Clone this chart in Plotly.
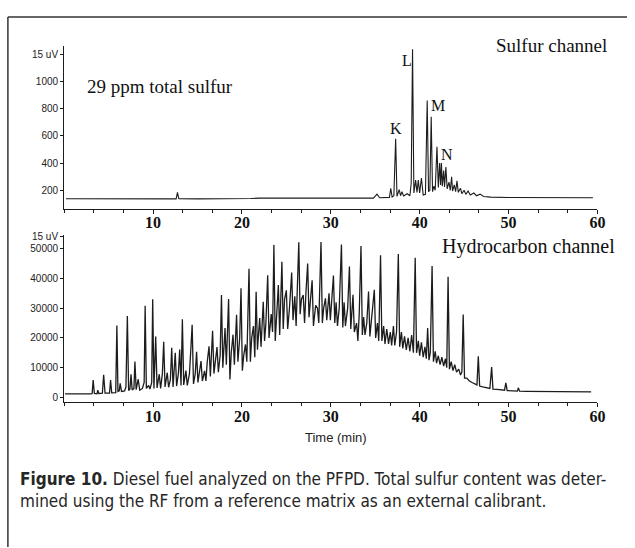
import plotly.graph_objects as go

W, H = 635, 548

# ---------------- data ----------------
# Sulfur channel: (time [min], signal)
sulfur_time = [0.2, 5, 10, 12.6, 12.75, 12.9, 15, 20, 21, 22, 25, 30, 34.8, 35.2, 35.5,
               36.6, 36.75, 36.9, 37.1, 37.3, 37.45, 37.7, 37.85, 38.0, 38.2, 38.6, 38.9,
               39.05, 39.2, 39.35, 39.55, 39.7, 39.85, 40.0, 40.2, 40.4, 40.65, 40.85,
               41.0, 41.15, 41.3, 41.45, 41.6, 41.75, 41.95, 42.1, 42.25, 42.35, 42.45,
               42.55, 42.7, 42.8, 42.95, 43.1, 43.3, 43.45, 43.6, 43.7, 43.9, 44.05,
               44.2, 44.35, 44.6, 44.75, 45.0, 45.2, 45.45, 45.7, 46.1, 46.4, 46.8,
               47.2, 48, 50, 55, 59.5]
sulfur_signal = [138, 137, 136, 137, 185, 138, 137, 136, 140, 143, 142, 142, 143, 172, 145,
                 148, 215, 150, 160, 578, 155, 205, 160, 190, 158, 175, 160,
                 250, 1235, 180, 275, 185, 275, 180, 290, 165, 170, 860,
                 190, 200, 740, 190, 230, 200, 520, 220, 400, 240, 400,
                 230, 345, 225, 370, 210, 260, 200, 300, 195, 240, 190,
                 270, 185, 215, 175, 200, 170, 195, 165, 180, 160, 172,
                 155, 150, 147, 146, 145]

# Hydrocarbon channel: (time [min], signal)
hc_points = [
    (0.1, 1200), (1.5, 1100), (3.0, 1200), (3.15, 1300), (3.26, 5800), (3.4, 1300),
    (3.7, 1200), (3.78, 2400), (3.9, 1300), (4.3, 1400), (4.44, 7600), (4.6, 1400),
    (5.1, 1400), (5.22, 5800), (5.35, 1500), (5.8, 1600), (5.93, 24200), (6.05, 2000),
    (6.2, 2200), (6.3, 4700), (6.45, 2000), (6.8, 2200), (6.95, 3500), (7.11, 27400),
    (7.25, 2300), (7.4, 2800), (7.52, 7800), (7.65, 2500), (7.85, 3000), (7.96, 12100),
    (8.1, 2600), (8.33, 6100), (8.5, 2400), (8.8, 3000), (9.0, 5000), (9.11, 30800),
    (9.25, 3000), (9.5, 4000), (9.65, 2800), (9.85, 5000), (9.96, 33000), (10.1, 3000),
    (10.3, 20500), (10.45, 3200), (10.7, 7800), (10.85, 3000), (11.05, 8000),
    (11.2, 18700), (11.35, 3500), (11.6, 8300), (11.75, 3400), (11.95, 6000),
    (12.1, 16700), (12.25, 3500), (12.5, 15000), (12.65, 3800), (12.85, 8000),
    (13.0, 16100), (13.15, 4000), (13.3, 26300), (13.45, 4200), (13.7, 9000),
    (13.85, 4000), (14.1, 8000), (14.4, 24400), (14.55, 4500), (14.75, 8000),
    (14.9, 15300), (15.05, 5000), (15.4, 12200), (15.55, 5500), (15.8, 8900),
    (15.95, 5500), (16.1, 12000), (16.3, 17200), (16.45, 7000), (16.7, 22400),
    (16.85, 8000), (17.0, 12000), (17.2, 16900), (17.35, 8500), (17.55, 14000),
    (17.7, 34400), (17.85, 10000), (18.1, 23300), (18.25, 11000), (18.5, 33100),
    (18.65, 6000), (18.8, 15000), (19.0, 21100), (19.15, 11000), (19.4, 27800),
    (19.55, 12000), (19.75, 20000), (19.9, 36700), (20.05, 9000), (20.2, 14000),
    (20.4, 17800), (20.55, 12000), (20.8, 43300), (20.95, 12000), (21.1, 20000),
    (21.3, 24000), (21.45, 13500), (21.6, 35500), (21.75, 16000), (22.0, 26700),
    (22.15, 17000), (22.4, 32200), (22.55, 19000), (22.7, 25000), (22.9, 41100),
    (23.05, 20000), (23.3, 28000), (23.45, 22000), (23.6, 51300), (23.75, 19000),
    (23.9, 28000), (24.1, 37800), (24.25, 21000), (24.5, 45600), (24.65, 23000),
    (24.8, 33000), (25.0, 36000), (25.15, 23000), (25.35, 30000), (25.6, 42000),
    (25.75, 26000), (25.95, 34000), (26.1, 24000), (26.4, 52200), (26.55, 28000),
    (26.7, 33000), (26.9, 34400), (27.05, 25000), (27.2, 35000), (27.4, 45000),
    (27.55, 27000), (27.7, 33000), (27.9, 39400), (28.05, 24000), (28.3, 31000),
    (28.5, 30000), (28.65, 25000), (28.9, 52300), (29.05, 25000), (29.2, 30000),
    (29.4, 33300), (29.55, 26000), (29.8, 35000), (29.95, 26000), (30.1, 33000),
    (30.3, 41000), (30.45, 25000), (30.6, 32000), (30.75, 24000), (30.95, 30000),
    (31.2, 51400), (31.35, 23500), (31.5, 32000), (31.65, 24000), (31.9, 30000),
    (32.1, 44000), (32.25, 23000), (32.5, 34500), (32.65, 22000), (32.9, 25000),
    (33.05, 19000), (33.2, 28000), (33.4, 50900), (33.55, 21000), (33.7, 27000),
    (33.85, 21000), (34.05, 25000), (34.25, 35600), (34.4, 20500), (34.6, 26000),
    (34.9, 36200), (35.05, 20000), (35.25, 25000), (35.4, 19000), (35.6, 47800),
    (35.75, 19000), (35.95, 24000), (36.1, 18000), (36.3, 23000), (36.5, 18000),
    (36.7, 22000), (36.85, 17500), (37.05, 24000), (37.2, 17500), (37.4, 22000),
    (37.6, 48200), (37.75, 17000), (37.95, 22000), (38.1, 16500), (38.3, 20500),
    (38.5, 16000), (38.7, 20000), (38.9, 15500), (39.1, 21000), (39.3, 15000),
    (39.5, 47000), (39.65, 15000), (39.85, 19000), (40.0, 14000), (40.2, 18500),
    (40.4, 13500), (40.6, 17000), (40.75, 13000), (40.9, 23300), (41.05, 12500),
    (41.2, 15000), (41.4, 44200), (41.55, 12000), (41.75, 15500), (41.9, 11500),
    (42.1, 14000), (42.3, 11000), (42.5, 13500), (42.7, 10500), (42.9, 13000),
    (43.05, 10000), (43.2, 40600), (43.35, 9500), (43.55, 12000), (43.75, 9000),
    (43.95, 11000), (44.15, 8500), (44.4, 9500), (44.6, 7500), (44.75, 8500),
    (44.9, 27900), (45.05, 6500), (45.3, 6500), (45.6, 5500), (45.9, 5000),
    (46.2, 4500), (46.45, 4200), (46.6, 13800), (46.75, 3800), (47.1, 3500),
    (47.5, 3200), (47.9, 3000), (48.1, 10200), (48.25, 2800), (48.7, 2700),
    (49.2, 2500), (49.55, 2400), (49.7, 4900), (49.85, 2300), (50.5, 2200),
    (51.0, 2100), (51.1, 3200), (51.25, 2100), (52, 2050), (54, 2000), (56, 1950),
    (58, 1900), (59.3, 1850)]
hc_time = [p[0] for p in hc_points]
hc_signal = [p[1] for p in hc_points]

x_ticks = [10, 20, 30, 40, 50, 60]
x_ticktext = ["<b>%d</b>" % v for v in x_ticks]
top_ticks = [200, 400, 600, 800, 1000, 1200]
top_ticktext = ["200", "400", "600", "800", "1000", "15 uV"]
bot_ticks = [0, 10000, 20000, 30000, 40000, 50000, 54000]
bot_ticktext = ["0", "10000", "20000", "30000", "40000", "50000", "15 uV"]

peak_labels = ["K", "L", "M", "N"]
peak_label_t = [37.33, 38.6, 42.06, 43.1]
peak_label_v = [651, 1153, 825, 462]

# ---------------- figure ----------------
def px_x(p):
    return p / W

def px_y(p):
    return 1 - p / H

ink = "#1c1c1c"
fig = go.Figure()
fig.add_trace(go.Scatter(x=sulfur_time, y=sulfur_signal, mode="lines",
                         line=dict(color=ink, width=1.1), xaxis="x", yaxis="y",
                         showlegend=False, hoverinfo="skip"))
fig.add_trace(go.Scatter(x=hc_time, y=hc_signal, mode="lines",
                         line=dict(color=ink, width=1.3), xaxis="x2", yaxis="y2",
                         showlegend=False, hoverinfo="skip"))

xdom = [px_x(65), px_x(605)]
xcommon = dict(range=[0, 60], domain=xdom, showline=True, linecolor=ink, linewidth=1.2,
               ticks="outside", ticklen=4, tickcolor=ink, tickwidth=1,
               tickvals=x_ticks, ticktext=x_ticktext, ticklabelstandoff=-5,
               showgrid=False, zeroline=False,
               tickfont=dict(family="Liberation Serif, Times New Roman, serif",
                             size=16, color="#111"),
               minor=dict(dtick=10 / 3, tick0=0, ticks="outside", ticklen=3,
                          tickcolor=ink, showgrid=False))
ycommon = dict(showline=True, linecolor=ink, linewidth=1.2, ticks="outside",
               ticklen=3, tickcolor=ink, showgrid=False, zeroline=False,
               tickfont=dict(family="Liberation Sans, Arial, sans-serif", size=10,
                             color="#222"))

fig.update_layout(
    width=W, height=H, autosize=False,
    margin=dict(l=0, r=0, t=0, b=0),
    paper_bgcolor="white", plot_bgcolor="white",
    xaxis=dict(**xcommon, anchor="y"),
    yaxis=dict(**ycommon, range=[62, 1262], domain=[px_y(207), px_y(42)],
               tickvals=top_ticks, ticktext=top_ticktext, anchor="x"),
    xaxis2=dict(**xcommon, anchor="y2"),
    yaxis2=dict(**ycommon, range=[-1667, 54667], domain=[px_y(402), px_y(233)],
                tickvals=bot_ticks, ticktext=bot_ticktext, anchor="x2"),
)

# frame lines (top and left)
fig.add_shape(type="line", xref="paper", yref="paper", x0=px_x(8), x1=1.0,
              y0=px_y(13), y1=px_y(13), line=dict(color="#333", width=1.5))
fig.add_shape(type="line", xref="paper", yref="paper", x0=px_x(8), x1=px_x(8),
              y0=px_y(13), y1=0, line=dict(color="#333", width=1.5))

serif = "Liberation Serif, Times New Roman, serif"
fig.add_annotation(text="29 ppm total sulfur", xref="paper", yref="paper",
                   x=px_x(86), y=px_y(83), xanchor="left", yanchor="middle",
                   showarrow=False, font=dict(family=serif, size=19, color="#111"))
fig.add_annotation(text="Sulfur channel", xref="paper", yref="paper",
                   x=px_x(617), y=px_y(42), xanchor="right", yanchor="middle",
                   showarrow=False, font=dict(family=serif, size=19, color="#111"))
fig.add_annotation(text="Hydrocarbon channel", xref="paper", yref="paper",
                   x=px_x(625), y=px_y(245), xanchor="right", yanchor="middle",
                   showarrow=False, font=dict(family=serif, size=20, color="#111"))
for lab, t, v in zip(peak_labels, peak_label_t, peak_label_v):
    fig.add_annotation(text=lab, xref="x", yref="y", x=t, y=v, showarrow=False,
                       xanchor="center", yanchor="middle",
                       font=dict(family=serif, size=16, color="#111"))

fig.add_annotation(text="Time (min)", xref="paper", yref="paper",
                   x=px_x(340), y=px_y(437), xanchor="center", yanchor="middle",
                   showarrow=False,
                   font=dict(family="Liberation Sans, Arial, sans-serif", size=13,
                             color="#222"))

cap_font = "Liberation Sans Narrow, Arial Narrow, DejaVu Sans Condensed, sans-serif"
fig.add_annotation(text="<b>Figure 10.</b> Diesel fuel analyzed on the PFPD. Total sulfur content was deter-",
                   xref="paper", yref="paper", x=px_x(18), y=px_y(479),
                   xanchor="left", yanchor="middle", showarrow=False,
                   font=dict(family=cap_font, size=17, color="#262626"))
fig.add_annotation(text="mined using the RF from a reference matrix as an external calibrant.",
                   xref="paper", yref="paper", x=px_x(18), y=px_y(502),
                   xanchor="left", yanchor="middle", showarrow=False,
                   font=dict(family=cap_font, size=17, color="#262626"))

fig.write_html("out.html")
